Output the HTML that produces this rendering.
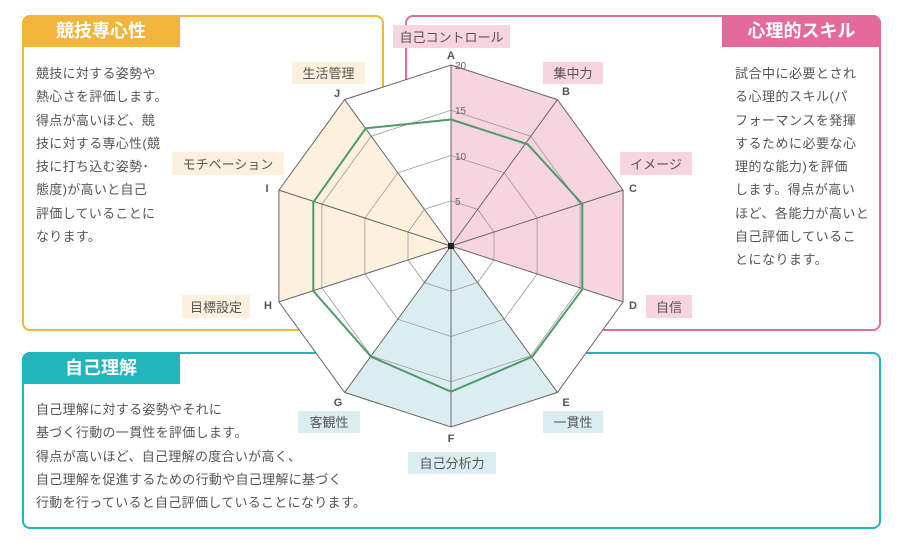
<!DOCTYPE html>
<html><head><meta charset="utf-8"><style>
body{margin:0;width:900px;height:545px;background:#fff;position:relative;overflow:hidden;font-family:"Liberation Sans","Noto Sans CJK JP",sans-serif;color:#555}
.box{position:absolute;border-radius:8px;box-sizing:border-box}
.tab{position:absolute;color:#fff;font-size:18px;font-weight:bold;text-align:center;line-height:32px;height:32px}
.txt{position:absolute;font-size:13px;line-height:23.3px;color:#555;letter-spacing:0.3px}
</style></head><body>
<div class="box" style="left:22px;top:15px;width:362px;height:316px;border:2.5px solid #f2b53a"></div>
<div class="tab" style="left:22px;top:15px;width:158px;background:#f2b53a;border-radius:8px 0 0 0">競技専心性</div>
<div class="txt" style="left:36px;top:62px">競技に対する姿勢や<br>熱心さを評価します。<br>得点が高いほど、競<br>技に対する専心性(競<br>技に打ち込む姿勢･<br>態度)が高いと自己<br>評価していることに<br>なります。</div>

<div class="box" style="left:405px;top:15px;width:476px;height:316px;border:2.5px solid #e46a9b"></div>
<div class="tab" style="left:722px;top:15px;width:159px;background:#e46a9b;border-radius:0 8px 0 0">心理的スキル</div>
<div class="txt" style="left:735px;top:62px;letter-spacing:0.5px">試合中に必要とされ<br>る心理的スキル(パ<br>フォーマンスを発揮<br>するために必要な心<br>理的な能力)を評価<br>します。得点が高い<br>ほど、各能力が高いと<br>自己評価しているこ<br>とになります。</div>

<div class="box" style="left:22px;top:352px;width:859px;height:177px;border:2.5px solid #22b5bb"></div>
<div class="tab" style="left:22px;top:352px;width:158px;background:#22b5bb;border-radius:8px 0 0 0">自己理解</div>
<div class="txt" style="left:36px;top:398px">自己理解に対する姿勢やそれに<br>基づく行動の一貫性を評価します。<br>得点が高いほど、自己理解の度合いが高く、<br>自己理解を促進するための行動や自己理解に基づく<br>行動を行っていると自己評価していることになります。</div>

<svg width="900" height="545" style="position:absolute;left:0;top:0" font-family="Liberation Sans, Noto Sans CJK JP, sans-serif">
<polygon points="451,65 557.4,99.6 623.1,190.1 623.1,301.9 557.4,392.4 451,427 344.6,392.4 278.9,301.9 278.9,190.1 344.6,99.6" fill="#fff"/>
<polygon points="451,246 451,65 557.4,99.6 623.1,190.1 623.1,301.9" fill="#f7d4df"/>
<polygon points="451,246 278.9,301.9 278.9,190.1 344.6,99.6" fill="#fdf0dc"/>
<polygon points="451,246 557.4,392.4 451,427 344.6,392.4" fill="#dcedf2"/>
<g fill="none" stroke="#999" stroke-width="0.8">
<polygon points="451,200.75 477.6,209.4 494,232 494,260 477.6,282.6 451,291.25 424.4,282.6 408,260 408,232 424.4,209.4"/>
<polygon points="451,155.5 504.2,172.8 537.1,218 537.1,274 504.2,319.2 451,336.5 397.8,319.2 364.9,274 364.9,218 397.8,172.8"/>
<polygon points="451,110.25 530.8,136.2 580.1,204.1 580.1,287.9 530.8,355.8 451,381.75 371.2,355.8 321.9,287.9 321.9,204.1 371.2,136.2"/>
</g>
<g stroke="#666" stroke-width="1">
<polygon fill="none" points="451,65 557.4,99.6 623.1,190.1 623.1,301.9 557.4,392.4 451,427 344.6,392.4 278.9,301.9 278.9,190.1 344.6,99.6"/>
<line x1="451" y1="246" x2="451" y2="65"/><line x1="451" y1="246" x2="557.4" y2="99.6"/><line x1="451" y1="246" x2="623.1" y2="190.1"/><line x1="451" y1="246" x2="623.1" y2="301.9"/><line x1="451" y1="246" x2="557.4" y2="392.4"/><line x1="451" y1="246" x2="451" y2="427"/><line x1="451" y1="246" x2="344.6" y2="392.4"/><line x1="451" y1="246" x2="278.9" y2="301.9"/><line x1="451" y1="246" x2="278.9" y2="190.1"/><line x1="451" y1="246" x2="344.6" y2="99.6"/>
</g>
<polygon fill="none" stroke="#4f9a6a" stroke-width="2" points="451,119.5 527.7,144.3 582.3,204 582.3,289.3 532.3,356.7 451,391.7 371,356.7 313.3,291 313.3,202.3 365.7,128.3"/>
<rect x="448" y="243" width="6" height="6" fill="#222"/>
<g font-size="10" fill="#666"><text x="455" y="69">20</text><text x="455" y="114">15</text><text x="455" y="160">10</text><text x="455" y="205">5</text></g>
<g font-size="11" font-weight="bold" fill="#555" text-anchor="middle">
<text x="451" y="59">A</text><text x="566" y="95">B</text><text x="633" y="192">C</text><text x="633" y="309">D</text><text x="566" y="406">E</text><text x="451" y="442">F</text><text x="338" y="406">G</text><text x="268" y="309">H</text><text x="267" y="192">I</text><text x="337" y="97">J</text>
</g>
<g font-size="13" fill="#555" text-anchor="middle">
<rect x="393" y="25" width="117" height="23" fill="#f7d4df"/><text x="451.5" y="42">自己コントロール</text>
<rect x="292" y="62" width="73" height="22" fill="#fdf0dc"/><text x="328.5" y="78">生活管理</text>
<rect x="543" y="62" width="60" height="22" fill="#f7d4df"/><text x="573" y="78">集中力</text>
<rect x="172" y="152" width="112" height="23" fill="#fdf0dc"/><text x="228" y="169">モチベーション</text>
<rect x="620" y="152" width="72" height="23" fill="#f7d4df"/><text x="656" y="169">イメージ</text>
<rect x="182" y="295" width="68" height="23" fill="#fdf0dc"/><text x="216" y="312">目標設定</text>
<rect x="646" y="295" width="46" height="23" fill="#f7d4df"/><text x="669" y="312">自信</text>
<rect x="298" y="411" width="62" height="22" fill="#dcedf2"/><text x="329" y="427">客観性</text>
<rect x="543" y="411" width="60" height="22" fill="#dcedf2"/><text x="573" y="427">一貫性</text>
<rect x="408" y="452" width="88" height="22" fill="#dcedf2"/><text x="452" y="468">自己分析力</text>
</g>
</svg>
</body></html>
